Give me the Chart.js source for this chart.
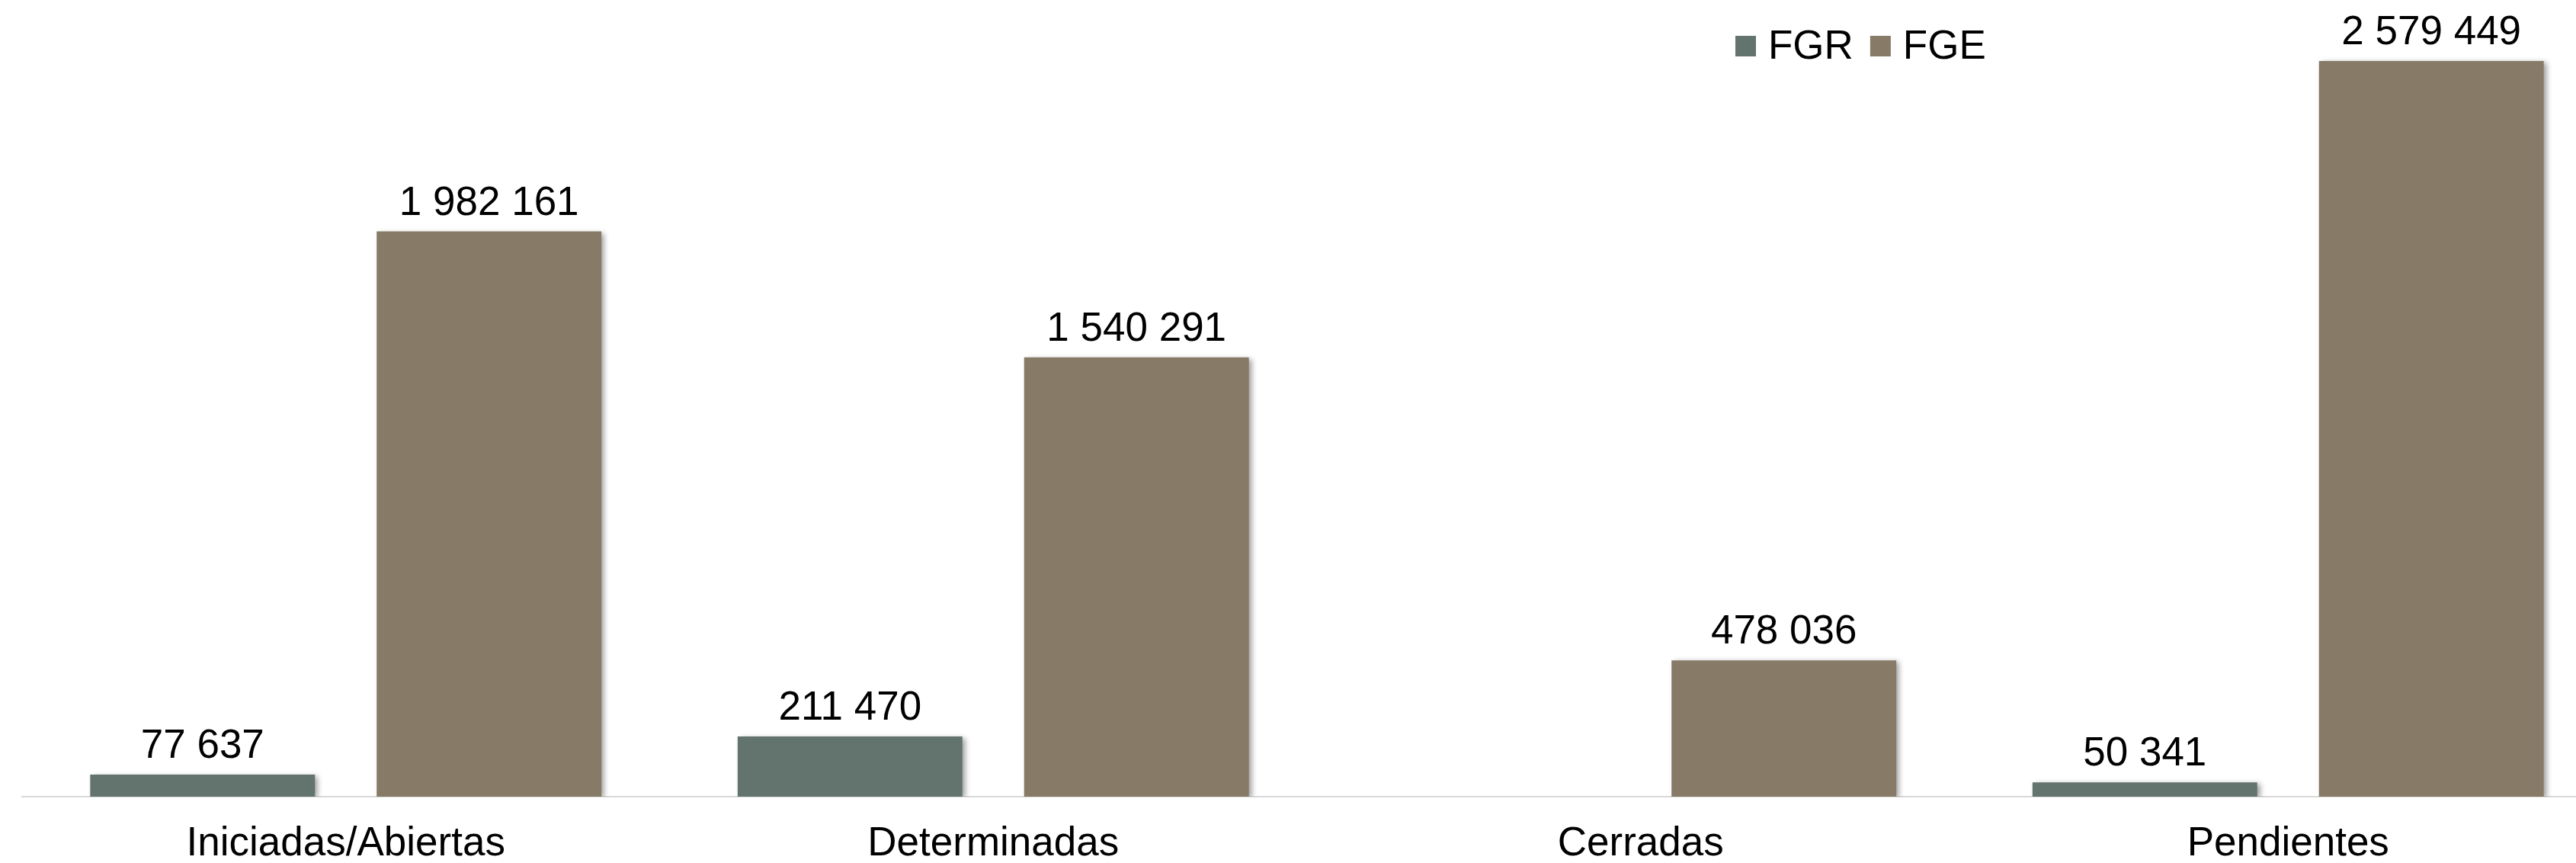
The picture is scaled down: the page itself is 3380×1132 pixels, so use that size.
<!DOCTYPE html>
<html>
<head>
<meta charset="utf-8">
<script src="https://cdn.jsdelivr.net/npm/chart.js@4.4.1/dist/chart.umd.min.js"></script>
<style>
  html, body { margin: 0; padding: 0; background: #fff; overflow: hidden; }
  /* plot runs a bit past the right edge, like the cropped original */
  #wrap { position: absolute; left: 0; top: 0; width: 3427px; height: 1132px; }
</style>
</head>
<body>
<div id="wrap"><canvas id="barChart"></canvas></div>
<script>
// data
var categories = ['Iniciadas/Abiertas', 'Determinadas', 'Cerradas', 'Pendientes'];
var fgrValues = [77637, 211470, null, 50341];
var fgeValues = [1982161, 1540291, 478036, 2579449];
var seriesNames = ['FGR', 'FGE'];
var seriesColors = ['#63736e', '#877a67'];

var FONT = '"Liberation Sans", Arial, sans-serif';

function fmt(v) {
    return String(v).replace(/\B(?=(\d{3})+(?!\d))/g, ' ');
}

// shadow under bars + value labels on top
var barExtras = {
    id: 'barExtras',
    beforeDatasetsDraw: function (chart) {
        var ctx = chart.ctx;
        ctx.save();
        ctx.shadowColor = 'rgba(0,0,0,0.38)';
        ctx.shadowBlur = 7;
        ctx.shadowOffsetX = 4;
        ctx.shadowOffsetY = 2;
    },
    afterDatasetsDraw: function (chart) {
        var ctx = chart.ctx;
        ctx.restore();
        ctx.save();
        ctx.font = '53px ' + FONT;
        ctx.fillStyle = '#000';
        ctx.textAlign = 'center';
        ctx.textBaseline = 'alphabetic';
        chart.data.datasets.forEach(function (ds, i) {
            var meta = chart.getDatasetMeta(i);
            meta.data.forEach(function (bar, j) {
                var v = ds.data[j];
                if (v == null) return;
                ctx.fillText(fmt(v), bar.x, bar.y - 22);
            });
        });
        ctx.restore();
    },
    afterDraw: function (chart) {
        // legend, top right
        var ctx = chart.ctx;
        ctx.save();
        ctx.font = '53px ' + FONT;
        ctx.textBaseline = 'alphabetic';
        ctx.textAlign = 'left';
        var x = 2277;
        seriesNames.forEach(function (name, i) {
            ctx.fillStyle = seriesColors[i];
            ctx.fillRect(x, 47, 27, 27);
            ctx.fillStyle = '#000';
            ctx.fillText(name, x + 43, 77);
            x += 43 + ctx.measureText(name).width + 22;
        });
        ctx.restore();
    }
};

var ctx = document.getElementById('barChart');
var barChart = new Chart(ctx, {
    type: 'bar',
    data: {
        labels: categories,
        datasets: [
            {
                label: seriesNames[0],
                data: fgrValues,
                backgroundColor: seriesColors[0],
                categoryPercentage: 0.885,
                barPercentage: 0.7846
            },
            {
                label: seriesNames[1],
                data: fgeValues,
                backgroundColor: seriesColors[1],
                categoryPercentage: 0.885,
                barPercentage: 0.7846
            }
        ]
    },
    options: {
        responsive: true,
        maintainAspectRatio: false,
        animation: false,
        layout: { padding: { left: 29, right: 0, top: 35, bottom: 0 } },
        plugins: {
            legend: { display: false },
            tooltip: { enabled: false }
        },
        scales: {
            x: {
                grid: { display: false, drawTicks: false },
                border: { display: true, color: '#d9d9d9', width: 2 },
                ticks: {
                    color: '#000',
                    padding: 31,
                    maxRotation: 0,
                    font: { family: FONT, size: 53 }
                },
                afterFit: function (scale) { scale.height = 87; }
            },
            y: {
                display: false,
                min: 0,
                max: 2700000
            }
        }
    },
    plugins: [barExtras]
});
</script>
</body>
</html>
